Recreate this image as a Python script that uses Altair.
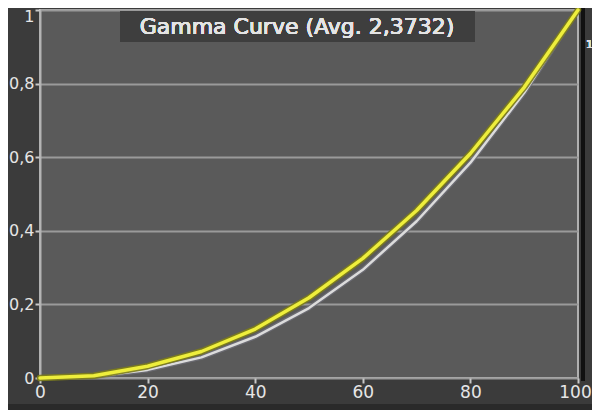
import altair as alt
import pandas as pd

# Data
x_vals = [0, 10, 20, 30, 40, 50, 60, 70, 80, 90, 100]
measured = [0.0, 0.006, 0.032, 0.072, 0.133, 0.218, 0.325, 0.455, 0.610, 0.790, 1.0]
reference = [0.0, 0.004, 0.022, 0.056, 0.112, 0.190, 0.294, 0.426, 0.585, 0.775, 1.0]
x_ticks = [0, 20, 40, 60, 80, 100]
y_ticks = [0, 0.2, 0.4, 0.6, 0.8, 1.0]
title_text = "Gamma Curve (Avg. 2,3732)"
side_label = "1"

df = pd.DataFrame({"x": x_vals, "measured": measured, "reference": reference})

W, H = 538, 368
FONT = "DejaVu Sans"

xs = alt.Scale(domain=[0, 100], nice=False, zero=False)
ys = alt.Scale(domain=[0, 1], nice=False)

x_axis = alt.Axis(values=x_ticks, title=None, grid=False, domain=False,
                  tickColor="#c8c8c8", tickSize=5, tickWidth=2,
                  labelColor="#e6e6e6", labelFont=FONT, labelFontSize=17,
                  labelPadding=1, labelFlush=False, labelOverlap=False,
                  labelOffset={"condition": {"test": "datum.value >= 100", "value": -3},
                               "value": 0})
y_axis = alt.Axis(values=y_ticks, title=None, grid=True, gridColor="#9a9a9a",
                  gridWidth=2, domain=True, domainColor="#b4b4b4", domainWidth=2,
                  tickColor="#c8c8c8", tickSize=5, tickWidth=2,
                  labelColor="#e6e6e6", labelFont=FONT, labelFontSize=16,
                  labelPadding=1, labelFlush=False, labelOverlap=False,
                  labelBaseline={"condition": {"test": "datum.value >= 1", "value": "top"},
                                 "value": "middle"},
                  labelOffset={"condition": {"test": "datum.value >= 1", "value": -2},
                               "value": 0},
                  format=".1~f", labelExpr="replace(datum.label, '.', ',')")

base = alt.Chart(df)

def line(field, color, width, opacity=1.0):
    return base.mark_line(color=color, strokeWidth=width, opacity=opacity,
                          strokeJoin="round", strokeCap="round").encode(
        x=alt.X("x:Q", scale=xs, axis=x_axis),
        y=alt.Y(f"{field}:Q", scale=ys, axis=y_axis),
    )

gray_halo = line("reference", "#6f6f78", 5, 0.8)
gray_line = line("reference", "#dcdcdc", 2.5)
yellow_halo = line("measured", "#7d7d18", 6.5, 0.9)
yellow_line = line("measured", "#eeee3c", 3.5)

box = alt.Chart(df).mark_rect(color="#3e3e3e").encode(
    x=alt.value(80), x2=alt.value(435), y=alt.value(1), y2=alt.value(32))
title = alt.Chart(df).mark_text(text=title_text, font=FONT, fontSize=22, fontWeight="normal",
                                color="#e4e4e4", align="center", baseline="middle").encode(
    x=alt.value(257), y=alt.value(17))

side_rule = alt.Chart(df).mark_rule(color="#111111", strokeWidth=3).encode(
    x=alt.value(543), y=alt.value(-2), y2=alt.value(H + 3))
side_text = alt.Chart(df).mark_text(text=side_label, font=FONT, fontSize=11,
                                    color="#e0e0e0", align="left", baseline="middle").encode(
    x=alt.value(546), y=alt.value(35))
bottom_band = alt.Chart(df).mark_rect(color="#2a2a2a").encode(
    x=alt.value(-40), x2=alt.value(W + 14), y=alt.value(H + 26), y2=alt.value(H + 32))

chart = alt.layer(bottom_band, side_rule, gray_halo, gray_line, yellow_halo, yellow_line,
                  box, title, side_text).properties(
    width=W, height=H,
    background="#3b3b3b",
    padding={"left": 32, "top": 2, "right": 14, "bottom": 32},
    autosize=alt.AutoSizeParams(type="none"),
).configure_view(fill="#5a5a5a", stroke="#b0b0b0", strokeWidth=2)

chart.save("out.html", embed_options={"renderer": "svg", "actions": False})
